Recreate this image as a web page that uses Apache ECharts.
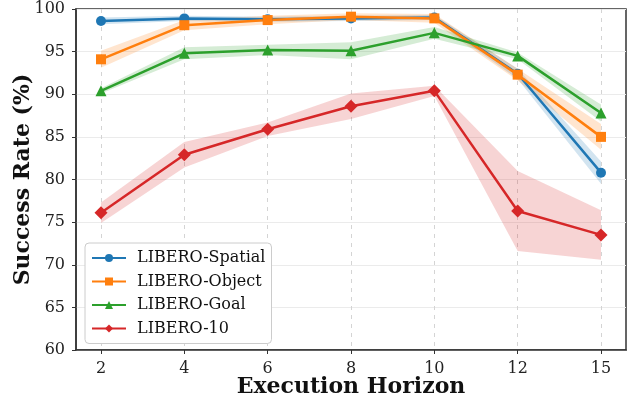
<!DOCTYPE html>
<html>
<head>
<meta charset="utf-8">
<script src="https://cdn.jsdelivr.net/npm/echarts@6/dist/echarts.min.js"></script>
<style>
html, body { margin: 0; padding: 0; background: #fff; }
#chart { width: 629px; height: 400px; }
</style>
</head>
<body>
<div id="chart"></div>
<script>
// execution horizons (equally spaced on the axis)
var horizons = ['2', '4', '6', '8', '10', '12', '15'];

var spatialMean = [98.6, 98.9, 98.8, 98.9, 99.0, 92.4, 80.8];
var spatialStd  = [0.4, 0.3, 0.3, 0.3, 0.3, 0.6, 1.3];

var objectMean = [94.1, 98.1, 98.7, 99.1, 98.9, 92.3, 85.0];
var objectStd  = [1.0, 0.6, 0.5, 0.4, 0.5, 0.7, 1.5];

var goalMean = [90.4, 94.8, 95.2, 95.1, 97.2, 94.5, 87.8];
var goalStd  = [0.3, 0.7, 0.6, 1.0, 0.7, 0.4, 1.0];

var libero10Mean = [76.1, 82.9, 85.9, 88.6, 90.4, 76.3, 73.5];
var libero10Std  = [1.2, 1.5, 0.8, 1.5, 0.6, 4.7, 2.9];

var yTicks = [60, 65, 70, 75, 80, 85, 90, 95, 100];

var groups = [
    { name: 'LIBERO-Spatial', color: '#1f77b4', symbol: 'circle', size: 10, mean: spatialMean, std: spatialStd },
    { name: 'LIBERO-Object', color: '#ff7f0e', symbol: 'rect', size: 10, mean: objectMean, std: objectStd },
    { name: 'LIBERO-Goal', color: '#2ca02c', symbol: 'triangle', size: 11, mean: goalMean, std: goalStd },
    { name: 'LIBERO-10', color: '#d62728', symbol: 'diamond', size: 13, mean: libero10Mean, std: libero10Std }
];

var FONT = 'DejaVu Serif';
var idx = horizons.map(function (h, i) { return i; });

// shaded mean +- std band, drawn as one polygon per group
function bandRender(g) {
    return function (params, api) {
        if (params.dataIndex !== 0) return;
        var up = [], lo = [];
        for (var i = 0; i < g.mean.length; i++) {
            up.push(api.coord([i, g.mean[i] + g.std[i]]));
            lo.unshift(api.coord([i, g.mean[i] - g.std[i]]));
        }
        return {
            type: 'polygon',
            shape: { points: up.concat(lo) },
            style: { fill: g.color, opacity: 0.2 }
        };
    };
}

var series = [];
groups.forEach(function (g) {
    series.push({
        type: 'custom', silent: true, z: 1,
        renderItem: bandRender(g),
        encode: { x: 0, y: [1, 2] },
        data: g.mean.map(function (m, i) { return [i, m - g.std[i], m + g.std[i]]; })
    });
});
groups.forEach(function (g) {
    series.push({
        name: g.name, type: 'line', z: 3,
        data: g.mean.map(function (m, i) { return [i, m]; }),
        symbol: g.symbol, symbolSize: g.size, showAllSymbol: true,
        itemStyle: { color: g.color },
        lineStyle: { color: g.color, width: 2.5 }
    });
});

var myChart = echarts.init(document.getElementById('chart'));
var option = {
    animation: false,
    backgroundColor: '#fff',
    grid: {
        left: 76, right: 3, top: 9, bottom: 50,
        outerBoundsMode: 'none', containLabel: false,
        show: true, borderColor: '#333', borderWidth: 1.5, backgroundColor: 'transparent'
    },
    legend: {
        data: groups.map(function (g) { return g.name; }),
        orient: 'vertical', left: 85, top: 243,
        itemWidth: 34, itemHeight: 10, itemGap: 7.5,
        backgroundColor: '#fff', borderColor: '#cccccc', borderWidth: 1, borderRadius: 4,
        padding: [7, 6, 7, 6],
        textStyle: { fontFamily: FONT, fontSize: 16, color: '#111', padding: [0, 0, 0, 6] }
    },
    xAxis: {
        type: 'value', min: -0.3, max: 6.3, interval: 1,
        name: 'Execution Horizon', nameLocation: 'middle', nameGap: 26, nameMoveOverlap: false,
        nameTextStyle: { fontFamily: FONT, fontSize: 22, fontWeight: 'bold', color: '#111' },
        axisLine: { lineStyle: { color: '#333', width: 1.5 } },
        axisTick: { customValues: idx, length: 4, lineStyle: { color: '#333' } },
        axisLabel: {
            customValues: idx, margin: 11,
            fontFamily: FONT, fontSize: 16, color: '#222',
            formatter: function (v) { return horizons[Math.round(v)]; }
        },
        splitLine: { show: true, lineStyle: { color: '#d4d4d4', type: [4, 5], width: 1 } }
    },
    yAxis: {
        type: 'value', min: yTicks[0], max: yTicks[yTicks.length - 1], interval: 5,
        name: 'Success Rate (%)', nameLocation: 'middle', nameGap: 42, nameMoveOverlap: false,
        nameTextStyle: { fontFamily: FONT, fontSize: 22, fontWeight: 'bold', color: '#111' },
        axisLine: { show: true, onZero: false, lineStyle: { color: '#333', width: 1.5 } },
        axisTick: { show: true, length: 4, lineStyle: { color: '#333' } },
        axisLabel: { fontFamily: FONT, fontSize: 16, color: '#222', margin: 11 },
        splitLine: { lineStyle: { color: '#ebebeb', width: 1 } }
    },
    series: series
};
myChart.setOption(option);
</script>
</body>
</html>
